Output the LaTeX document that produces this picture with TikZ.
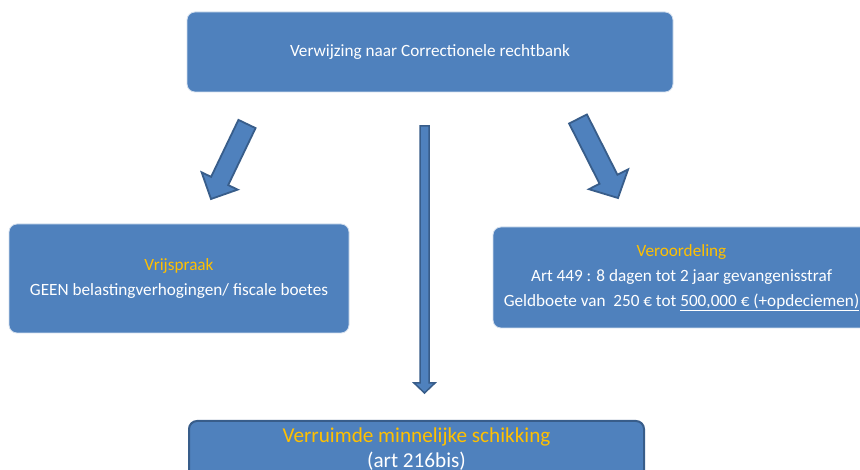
\documentclass[tikz,border=0pt]{standalone}
\usepackage{fontspec}
\setmainfont{Carlito}
\usetikzlibrary{calc}
\definecolor{boxblue}{HTML}{4F81BD}
\definecolor{edgeblue}{HTML}{385D8A}
\definecolor{goldtext}{HTML}{FFC000}
\tikzset{
  box/.style={draw=white!75!boxblue, line width=0.8pt, fill=boxblue, rounded corners=8pt,
    text=white, align=center, inner sep=0pt, font=\fontsize{17.2}{25}\selectfont},
  bigbox/.style={box, draw=edgeblue, line width=2pt, font=\fontsize{21.2}{25}\selectfont},
  arrowshape/.style={fill=boxblue, draw=edgeblue, line width=1.8pt, line join=miter}
}
\newcommand\blockarrow[5]{%
  \coordinate (hb) at ($(#2)!#5!(#1)$);
  \draw[arrowshape] ($(#1)!#3!90:(#2)$) -- ($(hb)!#3!90:(#2)$) -- ($(hb)!#4!90:(#2)$) -- (#2)
    -- ($(hb)!#4!-90:(#2)$) -- ($(hb)!#3!-90:(#2)$) -- ($(#1)!#3!-90:(#2)$) -- cycle;
}
\begin{document}
\begin{tikzpicture}[x=1pt,y=-1pt]
\clip (0,0) rectangle (860,470);
\fill[white] (0,0) rectangle (860,470);

\node[box, minimum width=486pt, minimum height=80pt] (top) at (430,52)
  {Verwijzing naar Correctionele rechtbank};
\node[box, minimum width=340pt, minimum height=109pt] (left) at (179,278.5)
  {\textcolor{goldtext}{Vrijspraak}\\GEEN belastingverhogingen/ fiscale boetes};
\node[box, minimum width=377pt, minimum height=101pt] (right) at (681.5,277.5)
  {\textcolor{goldtext}{Veroordeling}\\Art 449 : 8 dagen tot 2 jaar gevangenisstraf\\Geldboete van \ 250 € tot \underline{500,000 € (+opdeciemen)}};
\node[bigbox, minimum width=455pt, minimum height=57pt] (bottom) at (416.5,449.5)
  {\textcolor{goldtext}{Verruimde minnelijke schikking}\\(art 216bis)};

\coordinate (lt) at (247,124);
\coordinate (lh) at (211,199);
\coordinate (rt) at (578,119);
\coordinate (rh) at (618,198);
\coordinate (ct) at (424.5,126);
\coordinate (ch) at (424.5,393);
\blockarrow{lt}{lh}{9.5pt}{20pt}{20pt}
\blockarrow{rt}{rh}{10pt}{22pt}{21pt}
\begin{scope}[arrowshape/.append style={line width=1.5pt}]
\blockarrow{ct}{ch}{4.5pt}{10.5pt}{10pt}
\end{scope}
\end{tikzpicture}
\end{document}
